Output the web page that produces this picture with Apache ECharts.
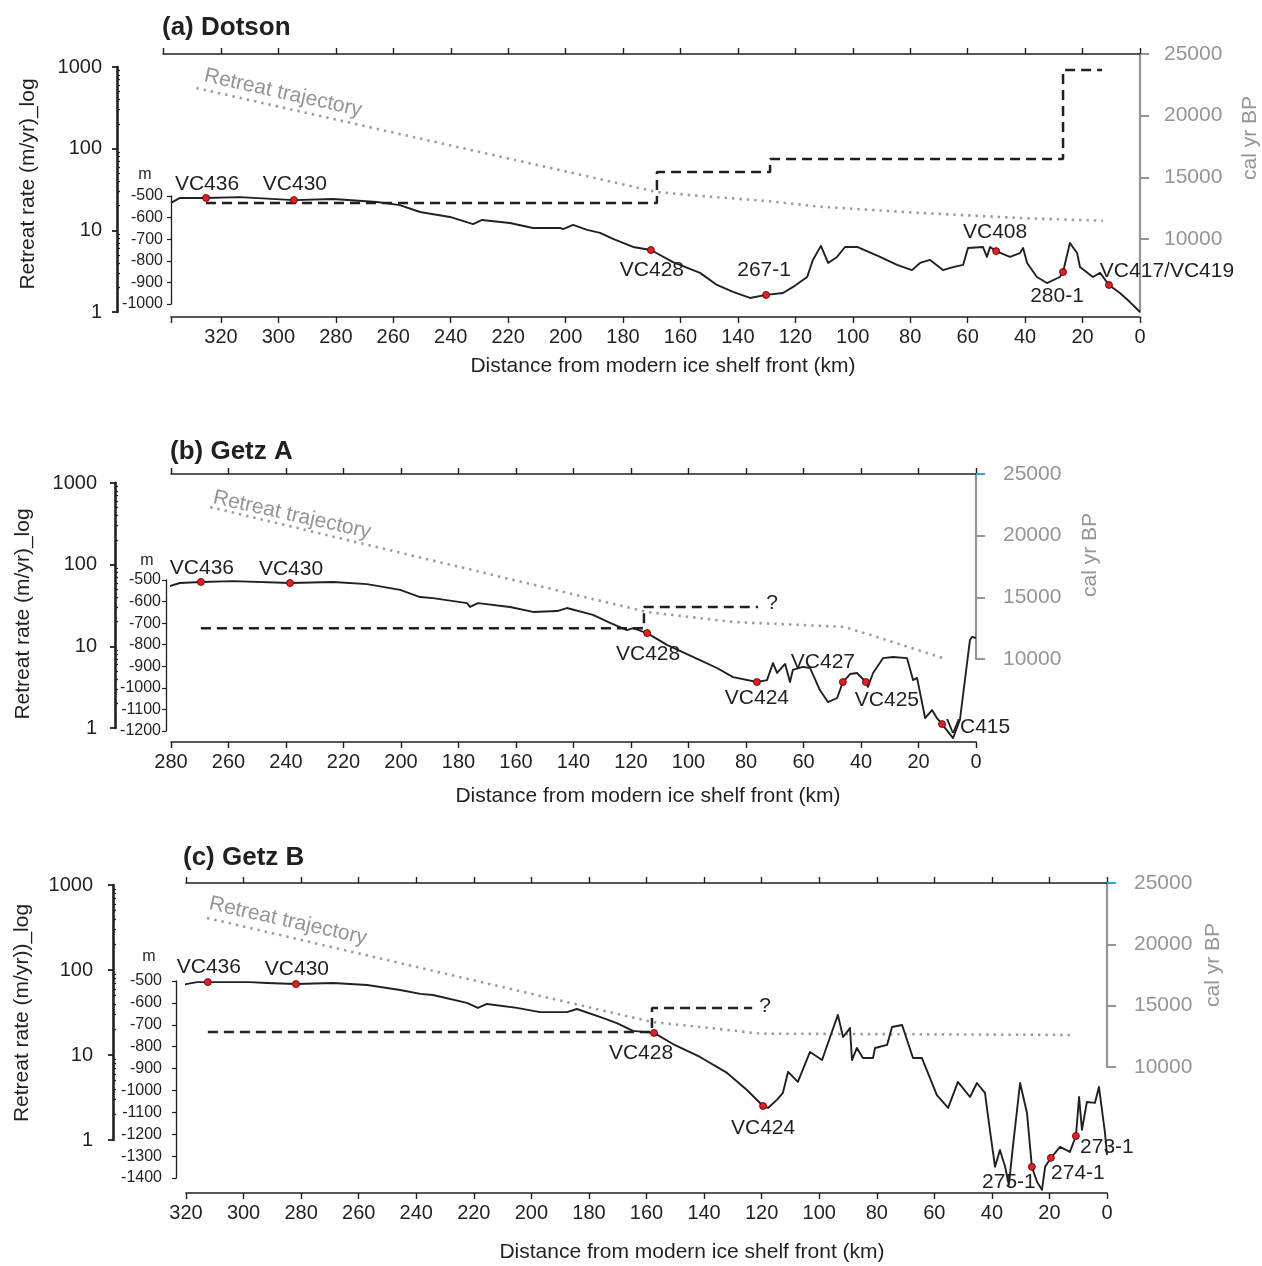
<!DOCTYPE html>
<html>
<head>
<meta charset="utf-8">
<script src="https://cdn.jsdelivr.net/npm/echarts@6/dist/echarts.min.js"></script>
<style>
  html, body { margin: 0; padding: 0; background: #fff; }
  #chart { width: 1262px; height: 1266px; }
</style>
</head>
<body>
<div id="chart"></div>
<script>
// ---------------------------------------------------------------
// Data: seafloor profiles, core sites, retreat rates, ages
// ---------------------------------------------------------------

// (a) Dotson — bathymetric profile (km from ice shelf front, m)
const distA = [337.4,334.3,325.2,313.4,294.6,281.0,265.7,257.7,250.7,240.3,232.2,229.1,219.4,211.4,201.9,200.9,197.4,192.5,188.0,183.5,176.5,170.3,162.6,153.2,147.3,141.7,135.8,130.2,124.3,120.8,115.9,113.9,111.1,108.6,105.5,102.7,98.5,90.5,84.6,79.4,76.6,73.1,68.6,65.1,61.6,59.9,54.7,53.3,52.2,50.1,45.3,41.8,40.7,39.3,35.9,32.4,27.9,26.8,24.4,21.9,20.9,16.4,13.9,10.8,7.0,3.5,0];
const depthA = [-532,-509,-509,-505,-519,-514,-528,-542,-574,-597,-630,-611,-625,-648,-648,-653,-634,-657,-671,-699,-736,-750,-806,-856,-912,-944,-972,-958,-949,-921,-875,-796,-731,-810,-782,-736,-736,-782,-819,-843,-810,-796,-843,-829,-819,-741,-736,-782,-736,-755,-782,-764,-741,-810,-875,-903,-875,-852,-718,-764,-829,-875,-856,-912,-949,-991,-1037];
const coreNamesA = ['VC436','VC430','VC428','267-1','VC408','280-1','VC417/VC419'];
const coreDistA = [325.2,294.6,170.3,130.2,50.1,26.8,10.8];
const coreDepthA = [-509,-519,-750,-958,-755,-852,-912];
// retreat rate (m/yr) between successive break points (km)
const rateBreaksA = [325.2,168.2,128.8,26.8,13.2];
const ratesA = [21.6,51.7,74.6,916];
// retreat trajectory (cal yr BP)
const trajDistA = [328.6,168.2,153.2,129.9,111.4,76.6,41.8,12.9];
const trajAgeA = [22240,13810,13490,13080,12620,12110,11700,11480];

// (b) Getz A
const distB = [281.4,276.9,269.6,258.4,238.6,223.6,211.8,200.3,193.4,188.9,177.0,176.0,173.2,162.1,154.1,145.7,142.3,133.2,127.3,121.4,119.3,114.4,107.5,96.0,90.1,84.5,76.2,72.7,70.6,69.2,66.4,64.7,63.7,60.2,57.7,54.3,51.5,48.3,46.3,43.8,41.4,38.3,37.6,35.8,32.3,28.9,24.0,21.9,20.5,17.7,15.3,13.6,11.8,8.0,5.6,2.1,1.4,0];
const depthB = [-532,-514,-509,-505,-514,-509,-519,-546,-579,-584,-607,-625,-607,-625,-648,-644,-630,-662,-699,-732,-723,-746,-801,-871,-908,-950,-973,-964,-885,-931,-889,-973,-917,-903,-908,-1010,-1066,-1047,-973,-936,-931,-973,-996,-931,-862,-857,-862,-964,-954,-1140,-1103,-1140,-1168,-1233,-1149,-778,-764,-769];
const coreNamesB = ['VC436','VC430','VC428','VC424','VC427','VC425','VC415'];
const coreDistB = [269.6,238.6,114.4,76.2,46.3,38.3,11.8];
const coreDepthB = [-509,-514,-746,-973,-973,-973,-1168];
const rateBreaksB = [269.6,115.5,75.8];
const ratesB = [16.7,30.3];
const trajDistB = [266.4,114.4,84.5,45.6,11.5];
const trajAgeB = [22320,13810,13000,12600,10080];

// (c) Getz B
const distC = [323.1,320.0,316.2,312.4,297.8,291.9,281.8,268.9,257.1,245.6,238.6,234.2,222.4,218.6,215.4,205.0,197.0,187.6,184.2,176.2,170.3,164.7,157.4,150.8,141.4,132.0,125.1,119.5,117.8,114.7,112.6,110.8,107.4,103.2,99.0,96.2,93.5,91.7,89.3,88.6,86.9,84.8,81.3,80.6,76.4,74.7,71.2,67.4,64.3,59.1,55.2,51.8,47.6,45.2,42.4,40.7,38.9,37.2,35.4,34.1,32.7,30.2,27.8,26.1,24.3,22.6,21.5,19.5,16.3,12.9,10.8,9.7,8.7,7.0,4.2,2.8,0.7,0];
const depthC = [-527,-514,-505,-505,-505,-509,-514,-509,-518,-541,-559,-564,-600,-623,-605,-623,-642,-642,-628,-664,-692,-728,-737,-788,-847,-920,-998,-1071,-1080,-1043,-1011,-915,-961,-824,-861,-756,-655,-756,-715,-861,-806,-852,-852,-806,-792,-710,-701,-852,-852,-1021,-1080,-961,-1030,-966,-1011,-1180,-1349,-1272,-1349,-1431,-1258,-966,-1103,-1349,-1418,-1454,-1349,-1308,-1258,-1281,-1208,-1030,-1180,-1053,-1057,-984,-1194,-1294];
const coreNamesC = ['VC436','VC430','VC428','VC424','275-1','274-1','273-1'];
const coreDistC = [312.4,281.8,157.4,119.5,26.1,19.5,10.8];
const coreDepthC = [-505,-514,-737,-1071,-1349,-1308,-1208];
const rateBreaksC = [312.4,158.1,123.3];
const ratesC = [18.7,35.7];
const trajDistC = [312.7,158.1,137.9,120.6,11.1];
const trajAgeC = [22150,13670,13180,12720,12610];

// Tick labels
const distTicksA = [0,20,40,60,80,100,120,140,160,180,200,220,240,260,280,300,320];
const distTicksB = [0,20,40,60,80,100,120,140,160,180,200,220,240,260,280];
const distTicksC = [0,20,40,60,80,100,120,140,160,180,200,220,240,260,280,300,320];
const ageTicks = [10000,15000,20000,25000];
const rateTicks = [1,10,100,1000];

// ---------------------------------------------------------------
// Styling
// ---------------------------------------------------------------
const FONT = '"Liberation Sans", Arial, Helvetica, sans-serif';
const INK = '#231f20';
const GREY = '#939598';
const DOT_GREY = '#9a9c9f';
const RED = '#e31e24';
const BLUE = '#27aae1';
const plain = v => String(v);   // no thousands separators

const panels = [
  {
    title: '(a) Dotson', titlePos: [162, 28],
    plot: { left: 171, right: 1140, top: 54, bottom: 317 }, xMax: 337.4, xLabels: distTicksA,
    topAxis: { left: 163, max: 340.2 },
    log: { top: 67, bottom: 312, offset: 54, margin: 15 },
    bath: { top: 196, bottom: 304, min: -1000, offset: 0, margin: 8, unitPos: [145, 175] },
    age: { top: 54, bottom: 312, min: 4081, margin: 24, blueTick: false },
    rateTitle: 'Retreat rate (m/yr)_log', rateTitlePos: [28, 184],
    ageTitlePos: [1250, 138], distTitlePos: [663, 366], trajTextPos: [283, 93],
    profile: [distA, depthA], cores: [coreNamesA, coreDistA, coreDepthA],
    coreLabelOffsets: [[1,-14],[1,-16],[1,20],[-2,-25],[-1,-19],[-6,24],[58,-14]],
    rate: [rateBreaksA, ratesA], query: false,
    traj: [trajDistA, trajAgeA]
  },
  {
    title: '(b) Getz A', titlePos: [170, 452],
    plot: { left: 171, right: 976, top: 474, bottom: 742 }, xMax: 280, xLabels: distTicksB,
    topAxis: { left: 171, max: 280 },
    log: { top: 483, bottom: 728, offset: 56, margin: 18 },
    bath: { top: 580, bottom: 731, min: -1200, offset: 5, margin: 5, unitPos: [147, 561] },
    age: { top: 474, bottom: 659, min: 10000, margin: 27, blueTick: true },
    rateTitle: 'Retreat rate (m/yr)_log', rateTitlePos: [23, 614],
    ageTitlePos: [1090, 555], distTitlePos: [648, 796], trajTextPos: [292, 515],
    profile: [distB, depthB], cores: [coreNamesB, coreDistB, coreDepthB],
    coreLabelOffsets: [[1,-14],[1,-14],[1,21],[0,16],[-20,-20],[21,18],[36,3]],
    rate: [rateBreaksB, ratesB], query: true, queryOffset: [0, -4], queryDist: 8,
    traj: [trajDistB, trajAgeB]
  },
  {
    title: '(c) Getz B', titlePos: [183, 858],
    plot: { left: 186, right: 1107, top: 883, bottom: 1193 }, xMax: 320, xLabels: distTicksC,
    topAxis: { left: 186, max: 320 },
    log: { top: 885, bottom: 1140, offset: 73, margin: 20 },
    bath: { top: 981, bottom: 1178, min: -1400, offset: 10, margin: 14, unitPos: [149, 957] },
    age: { top: 883, bottom: 1067, min: 10000, margin: 27, blueTick: true },
    rateTitle: 'Retreat rate (m/yr))_log', rateTitlePos: [22, 1013],
    ageTitlePos: [1213, 965], distTitlePos: [692, 1252], trajTextPos: [288, 921],
    profile: [distC, depthC], cores: [coreNamesC, coreDistC, coreDepthC],
    coreLabelOffsets: [[1,-15],[1,-15],[-13,20],[0,22],[-23,15],[27,15],[31,11]],
    rate: [rateBreaksC, ratesC], query: true, queryOffset: [0, -2], queryDist: 7,
    traj: [trajDistC, trajAgeC]
  }
];

// minor ticks of the logarithmic rate axis (2..9 within each decade)
const minorLogTicks = [];
for (let n = 0; n < 3; n++) {
  for (let k = 2; k <= 9; k++) minorLogTicks.push(Math.log10(k * Math.pow(10, n)));
}

const zip = (xs, ys) => xs.map((x, i) => [x, ys[i]]);

function stepPoints(breaks, rates) {
  const pts = [];
  rates.forEach((r, i) => {
    pts.push([breaks[i], Math.log10(r)]);
    pts.push([breaks[i + 1], Math.log10(r)]);
  });
  return pts;
}

const option = {
  animation: false,
  backgroundColor: '#ffffff',
  textStyle: { fontFamily: FONT },
  grid: [], xAxis: [], yAxis: [], series: [], graphic: []
};

function text(str, x, y, opts) {
  option.graphic.push(Object.assign({
    type: 'text', x: x, y: y, silent: true,
    style: Object.assign({
      text: str, fill: INK, fontFamily: FONT, fontSize: 21,
      textAlign: 'center', textVerticalAlign: 'middle'
    }, opts.style || {})
  }, opts.el || {}));
}

panels.forEach(p => {
  const R = 1262 - p.plot.right;
  const addGrid = (left, top, bottom) => {
    option.grid.push({ left: left, right: R, top: top, height: bottom - top,
      show: false, containLabel: false, outerBoundsMode: 'none' });
    return option.grid.length - 1;
  };
  const addX = (cfg) => { option.xAxis.push(cfg); return option.xAxis.length - 1; };
  const addY = (cfg) => { option.yAxis.push(cfg); return option.yAxis.length - 1; };
  const hiddenX = (g, max) => addX({ gridIndex: g, type: 'value', inverse: true, min: 0, max: max,
    show: false, axisLine: { onZero: false }, splitLine: { show: false } });
  const hiddenY = (g) => addY({ gridIndex: g, type: 'value', min: 0, max: 1, show: false,
    axisLine: { onZero: false }, splitLine: { show: false } });

  // ---- main frame: distance axis at the bottom
  const gMain = addGrid(p.plot.left, p.plot.top, p.plot.bottom);
  const xTickVals = p.xLabels.indexOf(p.xMax) >= 0 ? p.xLabels : p.xLabels.concat([p.xMax]);
  addX({
    gridIndex: gMain, type: 'value', inverse: true, min: 0, max: p.xMax, position: 'bottom',
    axisLine: { show: true, onZero: false, lineStyle: { color: INK, width: 1.6 } },
    axisTick: { show: true, length: 6, customValues: xTickVals, lineStyle: { color: INK, width: 1.4 } },
    axisLabel: { show: true, customValues: p.xLabels, margin: 10, fontSize: 20, color: INK,
      fontFamily: FONT, formatter: plain },
    splitLine: { show: false }
  });
  hiddenY(gMain);

  // ---- top frame line with ticks
  const gTop = addGrid(p.topAxis.left, p.plot.top, p.plot.top + 20);
  const topTicks = p.xLabels.indexOf(p.topAxis.max) >= 0 ? p.xLabels : p.xLabels.concat([p.topAxis.max]);
  addX({
    gridIndex: gTop, type: 'value', inverse: true, min: 0, max: p.topAxis.max, position: 'top',
    axisLine: { show: true, onZero: false, lineStyle: { color: INK, width: 1.6 } },
    axisTick: { show: true, length: 6, customValues: topTicks, lineStyle: { color: INK, width: 1.4 } },
    axisLabel: { show: false }, splitLine: { show: false }
  });
  hiddenY(gTop);

  // ---- bathymetry (m)
  const gBath = addGrid(p.plot.left, p.bath.top, p.bath.bottom);
  const xB = hiddenX(gBath, p.xMax);
  const yB = addY({
    gridIndex: gBath, type: 'value', position: 'left', offset: p.bath.offset,
    min: p.bath.min, max: -500, interval: 100,
    axisLine: { show: true, onZero: false, lineStyle: { color: INK, width: 1.3 } },
    axisTick: { show: true, length: 4, lineStyle: { color: INK, width: 1.2 } },
    axisLabel: { margin: p.bath.margin, fontSize: 16, color: INK, fontFamily: FONT, formatter: plain },
    splitLine: { show: false }
  });

  // ---- retreat rate (log scale)
  const gLog = addGrid(p.plot.left, p.log.top, p.log.bottom);
  const xL = hiddenX(gLog, p.xMax);
  const yL = addY({
    gridIndex: gLog, type: 'value', position: 'left', offset: p.log.offset,
    min: 0, max: 3, interval: 1,
    axisLine: { show: true, onZero: false, lineStyle: { color: INK, width: 2.6 } },
    axisTick: { show: true, length: 5, lineStyle: { color: INK, width: 1.8 } },
    axisLabel: {
      margin: p.log.margin, fontSize: 20, color: INK, fontFamily: FONT,
      customValues: rateTicks.map(v => Math.log10(v)),
      formatter: v => String(Math.round(Math.pow(10, v)))
    },
    splitLine: { show: false }
  });
  addY({
    gridIndex: gLog, type: 'value', position: 'left', offset: p.log.offset, min: 0, max: 3,
    axisLine: { show: false, onZero: false }, axisLabel: { show: false }, splitLine: { show: false },
    axisTick: { show: true, inside: true, length: 3, customValues: minorLogTicks,
      lineStyle: { color: INK, width: 1.3 } }
  });

  // ---- age (cal yr BP)
  const gAge = addGrid(p.plot.left, p.age.top, p.age.bottom);
  const xA = hiddenX(gAge, p.xMax);
  const yA = addY({
    gridIndex: gAge, type: 'value', position: 'right', offset: 0,
    min: p.age.min, max: 25000,
    axisLine: { show: true, onZero: false, lineStyle: { color: GREY, width: 2.2 } },
    axisTick: { show: true, length: 9, customValues: ageTicks, lineStyle: { color: GREY, width: 2 } },
    axisLabel: { margin: p.age.margin, fontSize: 21, color: GREY, fontFamily: FONT,
      customValues: ageTicks, formatter: plain },
    splitLine: { show: false }
  });
  if (p.age.blueTick) {
    addY({
      gridIndex: gAge, type: 'value', position: 'right', offset: 0, z: 3,
      min: p.age.min, max: 25000,
      axisLine: { show: false, onZero: false }, axisLabel: { show: false }, splitLine: { show: false },
      axisTick: { show: true, length: 9, customValues: [25000], lineStyle: { color: BLUE, width: 2 } }
    });
  }

  // ---- series
  option.series.push({
    type: 'line', xAxisIndex: xA, yAxisIndex: yA, data: zip(p.traj[0], p.traj[1]),
    symbol: 'none', showSymbol: false, clip: false, silent: true, z: 2,
    lineStyle: { color: DOT_GREY, width: 2.6, type: [2.4, 5], cap: 'butt' }
  });
  option.series.push({
    type: 'line', xAxisIndex: xB, yAxisIndex: yB, data: zip(p.profile[0], p.profile[1]),
    symbol: 'none', showSymbol: false, clip: false, silent: true, z: 3,
    lineStyle: { color: INK, width: 1.9, join: 'round' }
  });
  const steps = stepPoints(p.rate[0], p.rate[1]);
  option.series.push({
    type: 'line', xAxisIndex: xL, yAxisIndex: yL, data: steps,
    symbol: 'none', showSymbol: false, clip: false, silent: true, z: 4,
    lineStyle: { color: INK, width: 2.5, type: [10, 6], cap: 'butt' }
  });
  if (p.query) {
    option.series.push({
      type: 'scatter', xAxisIndex: xL, yAxisIndex: yL, clip: false, silent: true, z: 4,
      data: [steps[steps.length - 1]], symbolSize: 0.1,
      itemStyle: { color: 'rgba(0,0,0,0)' },
      label: { show: true, position: 'right', distance: p.queryDist, offset: p.queryOffset,
        formatter: '?', fontSize: 21, color: INK, fontFamily: FONT, opacity: 1 }
    });
  }
  const [names, cd, cz] = p.cores;
  option.series.push({
    type: 'scatter', xAxisIndex: xB, yAxisIndex: yB, clip: false, silent: true, z: 5,
    symbol: 'circle', symbolSize: 7,
    itemStyle: { color: RED, borderColor: '#4d0000', borderWidth: 0.8, opacity: 1 },
    label: { show: true, position: 'inside', formatter: prm => prm.name, opacity: 1,
      fontSize: 21, color: INK, fontFamily: FONT, textBorderWidth: 0 },
    data: names.map((n, i) => ({ name: n, value: [cd[i], cz[i]], label: { offset: p.coreLabelOffsets[i] } }))
  });

  // ---- titles and annotations
  text(p.title, p.titlePos[0], p.titlePos[1],
    { style: { textAlign: 'left', fontWeight: 'bold', fontSize: 26 } });
  text(p.rateTitle, p.rateTitlePos[0], p.rateTitlePos[1], { el: { rotation: Math.PI / 2 } });
  text('cal yr BP', p.ageTitlePos[0], p.ageTitlePos[1], { el: { rotation: Math.PI / 2 }, style: { fill: GREY } });
  text('Distance from modern ice shelf front (km)', p.distTitlePos[0], p.distTitlePos[1], {});
  text('m', p.bath.unitPos[0], p.bath.unitPos[1], { style: { fontSize: 16 } });
  text('Retreat trajectory', p.trajTextPos[0], p.trajTextPos[1],
    { el: { rotation: -0.22 }, style: { fill: GREY } });
});

const chart = echarts.init(document.getElementById('chart'), null, { renderer: 'canvas' });
chart.setOption(option);
</script>
</body>
</html>
